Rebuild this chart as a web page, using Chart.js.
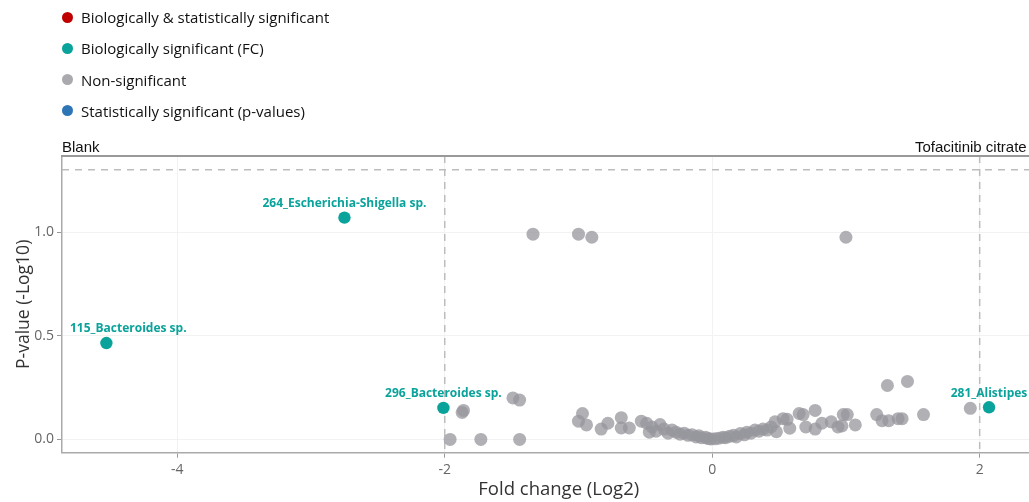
<!DOCTYPE html>
<html>
<head>
<meta charset="utf-8">
<script src="https://cdn.jsdelivr.net/npm/chart.js@4.4.1/dist/chart.umd.min.js"></script>
<style>
  html, body { margin: 0; padding: 0; background: #fff; overflow: hidden; width: 1029px; height: 502px; }
  #wrap { position: absolute; left: 2px; top: 0; width: 1060px; height: 502px; }
  #legend { position: absolute; left: 62px; top: 0; font: 15px "Open Sans", sans-serif; color: #111; }
  .row { position: absolute; left: 0; white-space: nowrap; display: flex; align-items: center; height: 20px; }
  .dot { width: 11px; height: 11px; border-radius: 50%; margin-right: 8px; }
  .side { position: absolute; top: 138px; font: 15px "Liberation Sans", Arial, sans-serif; color: #111; white-space: nowrap; }
</style>
</head>
<body>
<div id="wrap">
  <canvas id="volcano" width="1060" height="502"></canvas>
</div>
<div id="legend"></div>
<div class="side" style="left:62px">Blank</div>
<div class="side" style="left:915px">Tofacitinib citrate</div>
<script>
  // group names and colours
  const groupNames = [
    "Biologically & statistically significant",
    "Biologically significant (FC)",
    "Non-significant",
    "Statistically significant (p-values)",
  ];
  const groupColors = ["#c00000", "#0aa39b", "rgba(150,150,156,0.75)", "#2e75b6"];
  const legendColors = ["#c00000", "#0aa39b", "#a9a9ae", "#2e75b6"];

  // biologically significant taxa (labelled)
  const fcNames = ["264_Escherichia-Shigella sp.", "115_Bacteroides sp.", "296_Bacteroides sp.", "281_Alistipes"];
  const fcLog2 = [-2.75, -4.53, -2.01, 2.07];
  const fcP = [1.07, 0.465, 0.152, 0.155];

  // non-significant taxa
  const nsLog2 = [
    -1.34, -1.0, -0.9, 1.0,
    -1.49, -1.44, -1.86, -1.87, -1.96, -1.73, -1.44,
    -0.97, -1.0, -0.94, -0.83, -0.78, -0.68, -0.68, -0.62, -0.53, -0.49, -0.45, -0.39, -0.47,
    -0.42, -0.36, -0.33, -0.3, -0.27, -0.24, -0.21, -0.18, -0.15, -0.12, -0.1, -0.08, -0.05, -0.03, -0.01,
    0.02, 0.05, 0.08, 0.1, 0.13, 0.16, 0.18, 0.21, 0.24, 0.26, 0.29, 0.32, 0.35, 0.38, 0.41, 0.44,
    0.47, 0.48, 0.53, 0.56, 0.58, 0.65, 0.68, 0.7, 0.77, 0.77, 0.82, 0.89, 0.94, 0.97, 0.98, 1.01, 1.07,
    1.23, 1.27, 1.32, 1.39, 1.42, 1.31, 1.46, 1.58, 1.93,
  ];
  const nsP = [
    0.99, 0.99, 0.975, 0.975,
    0.2, 0.19, 0.14, 0.13, 0.0, 0.0, 0.0,
    0.125, 0.088, 0.07, 0.05, 0.078, 0.105, 0.055, 0.055, 0.088, 0.078, 0.06, 0.072, 0.035,
    0.04, 0.05, 0.03, 0.045, 0.035, 0.025, 0.03, 0.02, 0.022, 0.012, 0.018, 0.008, 0.01, 0.004, 0.002,
    0.003, 0.006, 0.01, 0.008, 0.015, 0.02, 0.012, 0.028, 0.022, 0.035, 0.03, 0.045, 0.04, 0.05, 0.045, 0.06,
    0.085, 0.037, 0.1, 0.097, 0.054, 0.125, 0.12, 0.06, 0.14, 0.05, 0.078, 0.085, 0.06, 0.065, 0.12, 0.12, 0.07,
    0.12, 0.09, 0.09, 0.1, 0.1, 0.26, 0.28, 0.12, 0.15,
  ];

  const xTicks = [-4, -2, 0, 2];
  const yTicks = [0, 0.5, 1.0];
  const fcCut = 2;
  const pCut = 1.301;

  const teal = "#0aa39b";

  // legend
  const legend = document.getElementById("legend");
  groupNames.forEach((name, i) => {
    const row = document.createElement("div");
    row.className = "row";
    row.style.top = (7 + i * 31.3) + "px";
    row.innerHTML = `<span class="dot" style="background:${legendColors[i]}"></span>${name}`;
    legend.appendChild(row);
  });

  function pairs(xs, ys) {
    return xs.map((x, i) => ({ x, y: ys[i] }));
  }

  const guides = {
    id: "guides",
    beforeDatasetsDraw(chart) {
      const { ctx, chartArea: a, scales } = chart;
      ctx.save();
      ctx.strokeStyle = "#bdbdbd";
      ctx.lineWidth = 1.5;
      ctx.setLineDash([7, 6]);
      const hy = scales.y.getPixelForValue(pCut);
      ctx.beginPath();
      ctx.moveTo(a.left, hy);
      ctx.lineTo(a.right, hy);
      [-fcCut, fcCut].forEach((v) => {
        const px = scales.x.getPixelForValue(v);
        ctx.moveTo(px, a.top);
        ctx.lineTo(px, a.bottom);
      });
      ctx.stroke();
      ctx.setLineDash([]);
      ctx.strokeStyle = "#999";
      ctx.lineWidth = 2;
      ctx.beginPath();
      ctx.moveTo(a.left - 1, a.top);
      ctx.lineTo(a.right, a.top);
      ctx.stroke();
      ctx.restore();
    },
    afterDatasetsDraw(chart) {
      const { ctx, chartArea: a, scales } = chart;
      ctx.save();
      ctx.font = 'bold 12px "Open Sans", sans-serif';
      ctx.fillStyle = teal;
      ctx.textAlign = "center";
      ctx.textBaseline = "middle";
      fcNames.forEach((name, i) => {
        const w = ctx.measureText(name).width;
        let cx = scales.x.getPixelForValue(fcLog2[i]);
        cx = Math.max(cx, a.left + 8 + w / 2);
        const cy = scales.y.getPixelForValue(fcP[i]) - 14;
        ctx.fillText(name, cx, cy);
      });
      ctx.restore();
    },
  };

  new Chart(document.getElementById("volcano"), {
    type: "scatter",
    data: {
      datasets: [
        { label: groupNames[0], data: [], backgroundColor: groupColors[0], order: 1 },
        { label: groupNames[1], data: pairs(fcLog2, fcP), backgroundColor: groupColors[1], pointRadius: 6.2, order: 0 },
        { label: groupNames[2], data: pairs(nsLog2, nsP), backgroundColor: groupColors[2], pointRadius: 6.5, order: 2 },
        { label: groupNames[3], data: [], backgroundColor: groupColors[3], order: 3 },
      ],
    },
    options: {
      responsive: false,
      animation: false,
      layout: { padding: { top: 156, left: 0, right: 0, bottom: 0 } },
      elements: { point: { borderWidth: 0, hoverRadius: 6 } },
      plugins: { legend: { display: false }, tooltip: { enabled: false } },
      scales: {
        x: {
          type: "linear",
          min: -4.862,
          max: 2.567,
          afterBuildTicks: (s) => { s.ticks = xTicks.map((v) => ({ value: v })); },
          afterFit: (s) => { s.height = 49.3; },
          ticks: { color: "#666", font: { family: "Open Sans", size: 14 }, padding: 4 },
          grid: { color: "#f2f2f2", tickColor: "#999", tickLength: 5 },
          border: { color: "#aaa", width: 1.5 },
          title: { display: true, text: "Fold change (Log2)", color: "#333", font: { family: "Open Sans", size: 18.5 }, padding: { top: 0, bottom: 1 } },
        },
        y: {
          type: "linear",
          min: -0.064,
          max: 1.367,
          afterBuildTicks: (s) => { s.ticks = yTicks.map((v) => ({ value: v })); },
          afterFit: (s) => { s.width = 60; },
          ticks: { color: "#666", font: { family: "Open Sans", size: 14 }, padding: 3, callback: (v) => v.toFixed(1) },
          grid: { color: "#f2f2f2", tickColor: "#999", tickLength: 5 },
          border: { color: "#aaa", width: 1.5 },
          title: { display: true, text: "P-value (-Log10)", color: "#333", font: { family: "Open Sans", size: 17.5 }, padding: { top: 12, bottom: 0 } },
        },
      },
    },
    plugins: [guides],
  });
</script>
</body>
</html>
